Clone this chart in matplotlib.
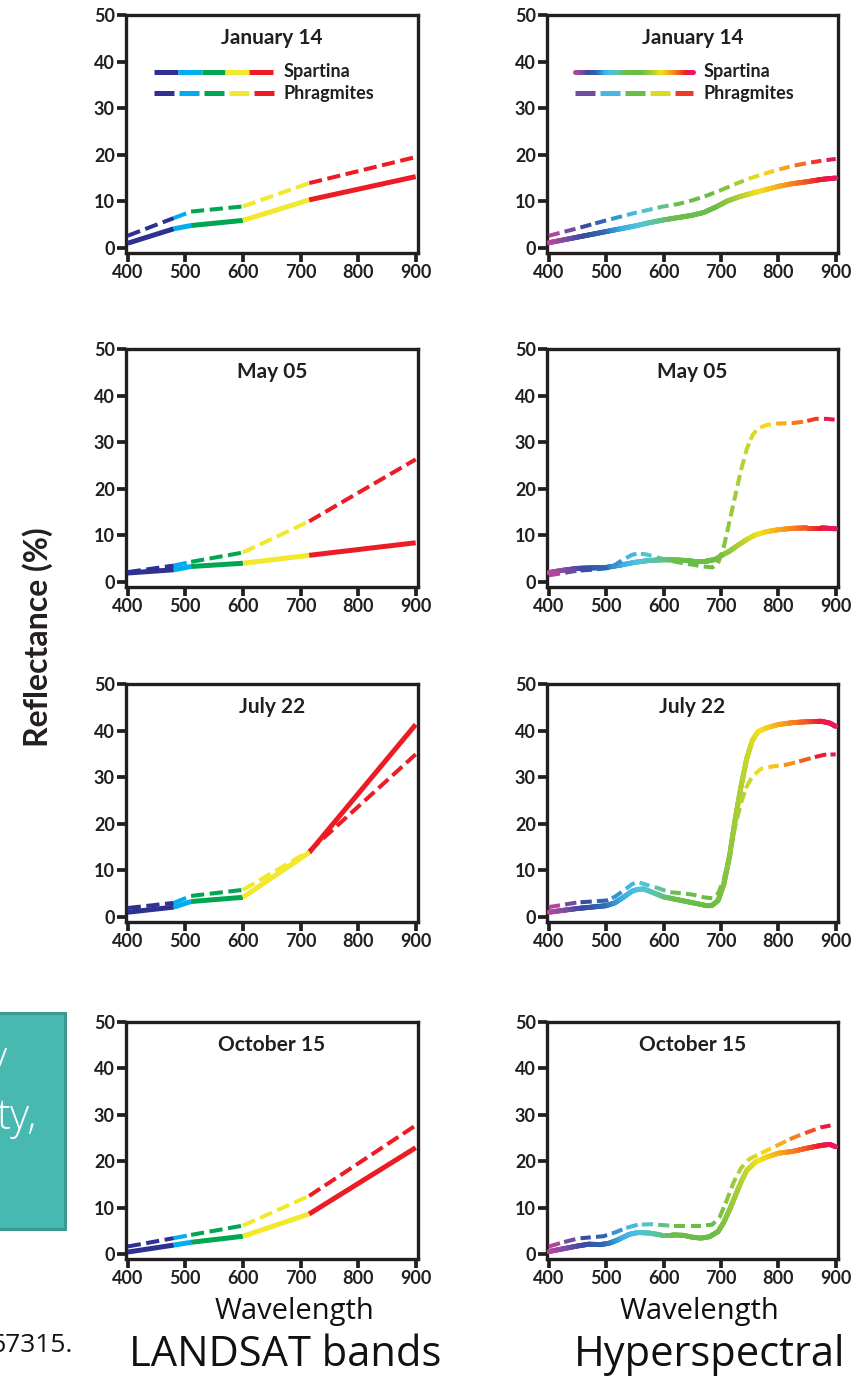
import numpy as np
import matplotlib
matplotlib.use('Agg')
import matplotlib.pyplot as plt
from matplotlib.collections import LineCollection
from matplotlib.colors import LinearSegmentedColormap
from matplotlib.patches import Rectangle

# ---- data -------------------------------------------------------------
dates = ['January 14', 'May 05', 'July 22', 'October 15']
xticks = [400, 500, 600, 700, 800, 900]
yticks = [0, 10, 20, 30, 40, 50]

# LANDSAT bands: band edges and reflectance at those edges
band_wl = [400, 480, 510, 600, 715, 900]
band_colors = ['#2e3192', '#00aeef', '#00a651', '#f2e82c', '#ed1c24']
landsat_spartina = [
    [1.0, 4.1, 4.8, 5.9, 10.3, 15.3],
    [1.9, 2.6, 3.3, 4.0, 5.7, 8.4],
    [1.0, 2.1, 3.3, 4.2, 13.8, 41.3],
    [0.4, 1.9, 2.5, 3.8, 8.6, 22.9],
]
landsat_phragmites = [
    [2.6, 6.4, 7.8, 8.9, 13.9, 19.5],
    [2.1, 3.5, 4.3, 6.3, 13.0, 26.3],
    [1.9, 3.0, 4.5, 5.8, 14.1, 34.9],
    [1.6, 3.4, 4.1, 6.1, 12.5, 27.7],
]

# Hyperspectral curves
hs_spartina_wl = [
    [400, 425, 450, 475, 500, 525, 550, 575, 600, 625, 650, 670, 690, 710, 730, 750, 775, 800, 825, 850, 875, 900],
    [400, 425, 450, 475, 500, 525, 550, 575, 600, 625, 650, 675, 690, 700, 715, 730, 745, 760, 780, 800, 825, 850, 875, 900],
    [400, 425, 450, 475, 500, 515, 530, 545, 555, 565, 580, 600, 620, 640, 660, 675, 685, 695, 705, 715, 725, 735, 745, 755, 765, 780, 800, 825, 850, 875, 890, 900],
    [400, 425, 450, 470, 490, 505, 520, 540, 555, 575, 595, 615, 635, 650, 665, 680, 695, 705, 715, 725, 735, 745, 760, 780, 800, 825, 850, 875, 890, 900],
]
hs_spartina = [
    [1.1, 1.7, 2.3, 2.9, 3.5, 4.1, 4.7, 5.4, 6.0, 6.5, 7.0, 7.6, 8.7, 10.0, 10.9, 11.6, 12.4, 13.2, 13.8, 14.2, 14.7, 15.0],
    [2.0, 2.5, 2.9, 3.0, 3.1, 3.6, 4.2, 4.6, 4.75, 4.7, 4.5, 4.5, 4.8, 5.6, 6.6, 7.9, 9.1, 10.1, 10.8, 11.2, 11.5, 11.6, 11.6, 11.4],
    [1.0, 1.4, 1.8, 2.1, 2.4, 3.0, 4.2, 5.5, 5.9, 6.0, 5.3, 4.3, 3.8, 3.3, 2.8, 2.4, 2.5, 3.5, 7.0, 13.0, 21.0, 28.0, 34.0, 38.0, 39.8, 40.6, 41.3, 41.7, 41.9, 42.0, 41.6, 40.9],
    [0.5, 1.1, 1.7, 2.1, 2.0, 2.3, 3.0, 4.2, 4.6, 4.5, 4.1, 4.1, 4.0, 3.6, 3.4, 3.7, 4.8, 6.8, 9.5, 12.5, 15.5, 18.0, 19.8, 20.9, 21.7, 22.1, 22.8, 23.4, 23.6, 23.1],
]
hs_phragmites_wl = [
    [400, 450, 500, 550, 600, 625, 650, 675, 700, 725, 750, 775, 800, 825, 850, 875, 900],
    [400, 425, 450, 475, 500, 515, 530, 545, 555, 570, 590, 610, 630, 650, 670, 685, 695, 705, 715, 725, 735, 745, 755, 765, 780, 800, 825, 845, 865, 885, 900],
    [400, 425, 450, 475, 500, 515, 530, 545, 555, 570, 590, 610, 630, 650, 670, 685, 695, 705, 715, 725, 735, 745, 755, 770, 790, 815, 840, 860, 880, 900],
    [400, 425, 450, 475, 495, 515, 535, 555, 580, 610, 640, 665, 685, 698, 710, 722, 735, 750, 770, 800, 825, 850, 875, 900],
]
hs_phragmites = [
    [2.6, 4.2, 5.9, 7.5, 8.9, 9.4, 10.2, 11.2, 12.4, 13.7, 14.9, 15.9, 16.8, 17.6, 18.2, 18.7, 19.1],
    [1.4, 1.9, 2.4, 2.6, 2.9, 3.6, 4.8, 5.8, 6.1, 5.9, 5.2, 4.6, 4.1, 3.7, 3.3, 3.1, 4.0, 7.5, 13.0, 18.5, 24.0, 28.5, 31.5, 33.0, 33.7, 34.0, 34.1, 34.4, 35.0, 35.0, 34.8],
    [2.1, 2.6, 3.1, 3.3, 3.5, 4.3, 5.6, 7.0, 7.5, 6.9, 6.2, 5.3, 5.1, 4.8, 4.2, 4.0, 5.0, 8.0, 13.5, 19.5, 24.5, 28.0, 30.2, 31.8, 32.3, 32.7, 33.5, 34.2, 34.8, 34.9],
    [1.6, 2.5, 3.3, 3.6, 3.8, 4.6, 5.6, 6.3, 6.4, 6.1, 6.1, 6.1, 6.3, 8.0, 11.5, 15.4, 18.5, 20.5, 21.7, 23.5, 25.0, 26.2, 27.3, 27.9],
]

# spectrum colours used for the hyperspectral curves
spec_wl = [400, 430, 460, 500, 530, 560, 590, 620, 690, 730, 770, 810, 850, 875, 900]
spec_col = ['#c2449b', '#7f4da0', '#3a4ba0', '#2e6bb6', '#3bb0e4', '#4fc3de', '#5cc2a0',
            '#6dbd4a', '#6bbd45', '#a6cd38', '#f4e21b', '#f8a21c', '#f15a24', '#ec1c2e', '#e8166a']

# ---- helpers ----------------------------------------------------------
W, H = 865, 1385
INK = '#231f20'
plt.rcParams['font.family'] = ['Lato', 'DejaVu Sans']
plt.rcParams['lines.scale_dashes'] = False

spec_cmap = LinearSegmentedColormap.from_list(
    'spec', [((w - 400) / 500, c) for w, c in zip(spec_wl, spec_col)])

fig = plt.figure(figsize=(W / 100, H / 100), dpi=100)


def fx(px):
    return px / W


def fy(py):
    return 1 - py / H


def add_panel(x0, x1, ytop, ybot):
    ax = fig.add_axes([fx(x0), fy(ybot), fx(x1 - x0), (ybot - ytop) / H])
    ax.set_xlim(397, 904)
    ax.set_ylim(-1.1, 50)
    for side in ['top', 'right', 'left', 'bottom']:
        ax.spines[side].set_linewidth(2.4)
        ax.spines[side].set_color(INK)
    ax.set_xticks(xticks)
    ax.set_xticklabels([str(t) for t in xticks], fontweight='bold')
    ax.set_yticks(yticks)
    ax.set_yticklabels([str(t) for t in yticks], fontweight='bold')
    ax.tick_params(direction='out', length=6.5, width=2.7, color=INK,
                   labelcolor=INK, labelsize=13, pad=1.5)
    return ax


def gradient_line(ax, x, y, lw, dash=None, trans=None, wl=None, z=3):
    """Draw polyline x,y coloured by wavelength, optionally dashed (pixels)."""
    trans = trans if trans is not None else ax.transData
    x = np.asarray(x, float)
    y = np.asarray(y, float)
    wl = x if wl is None else np.asarray(wl, float)
    pix = trans.transform(np.column_stack([x, y]))
    xs, ys, cs = [x[0]], [y[0]], [wl[0]]
    for i in range(len(x) - 1):
        n = max(2, int(np.hypot(*(pix[i + 1] - pix[i]))))
        t = np.linspace(0, 1, n + 1)[1:]
        xs.extend(x[i] + (x[i + 1] - x[i]) * t)
        ys.extend(y[i] + (y[i + 1] - y[i]) * t)
        cs.extend(wl[i] + (wl[i + 1] - wl[i]) * t)
    xs, ys, cs = np.array(xs), np.array(ys), np.array(cs)
    p = trans.transform(np.column_stack([xs, ys]))
    s = np.concatenate([[0], np.cumsum(np.hypot(np.diff(p[:, 0]), np.diff(p[:, 1])))])
    if dash is None:
        segs = np.stack([np.column_stack([xs[:-1], ys[:-1]]),
                         np.column_stack([xs[1:], ys[1:]])], axis=1)
        cmid = (cs[:-1] + cs[1:]) / 2
        lc = LineCollection(segs, colors=spec_cmap((cmid - 400) / 500), linewidths=lw,
                            transform=trans, zorder=z, capstyle='round')
    else:
        # one path per dash, coloured by the wavelength at its middle
        period = dash[0] + dash[1]
        on = (s % period) < dash[0]
        paths, cols = [], []
        i = 0
        while i < len(s):
            if on[i]:
                j = i
                while j + 1 < len(s) and on[j + 1]:
                    j += 1
                if j > i:
                    paths.append(np.column_stack([xs[i:j + 2], ys[i:j + 2]]))
                    cols.append(cs[(i + j) // 2])
                i = j + 1
            else:
                i += 1
        lc = LineCollection(paths, colors=spec_cmap((np.array(cols) - 400) / 500),
                            linewidths=lw, transform=trans, zorder=z, capstyle='butt')
    if trans is not ax.transData:
        lc.set_clip_on(False)
    ax.add_collection(lc)


# ---- layout -----------------------------------------------------------
row_top = [15, 349, 684, 1022]
row_bot = [253, 587, 922, 1259]
left_x = (126, 418)
right_x = (547, 838)

for r in range(4):
    axL = add_panel(left_x[0], left_x[1], row_top[r], row_bot[r])
    axR = add_panel(right_x[0], right_x[1], row_top[r], row_bot[r])
    for ax in (axL, axR):
        ax.text(0.5, 0.905, dates[r], transform=ax.transAxes, ha='center', va='center',
                fontsize=15, fontweight='bold', color=INK)

    # LANDSAT bands
    sp = landsat_spartina[r]
    ph = landsat_phragmites[r]
    for i in range(len(band_wl) - 1):
        axL.plot(band_wl[i:i + 2], ph[i:i + 2], color=band_colors[i], lw=2.9,
                 dashes=(9.5, 4), dash_capstyle='butt', zorder=4)
        axL.plot(band_wl[i:i + 2], sp[i:i + 2], color=band_colors[i], lw=3.6,
                 solid_capstyle='butt', zorder=3)

    # hyperspectral
    gradient_line(axR, hs_phragmites_wl[r], hs_phragmites[r], 2.9, dash=(11, 5), z=4)
    gradient_line(axR, hs_spartina_wl[r], hs_spartina[r], 3.6, z=3)

    if r == 0:
        # legend, LANDSAT panel
        lx0, lx1 = 0.096, 0.503
        seg = (lx1 - lx0) / 5
        for i, c in enumerate(band_colors):
            axL.plot([lx0 + i * seg, lx0 + (i + 1) * seg], [0.761, 0.761], color=c, lw=3.6,
                     solid_capstyle='butt', transform=axL.transAxes, clip_on=False)
            d0 = lx0 + i * 25 / 292
            axL.plot([d0, d0 + 20 / 292], [0.672, 0.672], color=c, lw=3.6,
                     solid_capstyle='butt', transform=axL.transAxes, clip_on=False)
        # legend, hyperspectral panel
        gradient_line(axR, [lx0, lx1], [0.761, 0.761], 3.6, trans=axR.transAxes,
                      wl=[400, 900])
        gradient_line(axR, [lx0, lx1], [0.672, 0.672], 3.6, dash=(20, 5),
                      trans=axR.transAxes, wl=[400, 900])
        for ax in (axL, axR):
            ax.text(0.538, 0.761, 'Spartina', transform=ax.transAxes, ha='left',
                    va='center', fontsize=13, fontweight='bold', color=INK)
            ax.text(0.538, 0.672, 'Phragmites', transform=ax.transAxes, ha='left',
                    va='center', fontsize=13, fontweight='bold', color=INK)

# ---- surrounding text ---------------------------------------------------
fig.text(fx(38), fy(637), 'Reflectance (%)', rotation=90, ha='center', va='center',
         fontsize=23, fontweight='bold', color=INK)

plain = ['Open Sans', 'DejaVu Sans']
fig.text(fx(294), fy(1312), 'Wavelength', ha='center', va='center', fontsize=21,
         family=plain, color='#111111')
fig.text(fx(699), fy(1312), 'Wavelength', ha='center', va='center', fontsize=21,
         family=plain, color='#111111')
fig.text(fx(285), fy(1355), 'LANDSAT bands', ha='center', va='center', fontsize=30,
         family=plain, color='#111111')
fig.text(fx(710), fy(1355), 'Hyperspectral', ha='center', va='center', fontsize=30,
         family=plain, color='#111111')
fig.text(fx(73), fy(1345), '67315.', ha='right', va='center', fontsize=19,
         family=plain, color='#111111')

# teal call-out box cut off at the left edge
fig.add_artist(Rectangle((fx(-10), fy(1229)), fx(75), (1229 - 1013) / H,
                         transform=fig.transFigure, facecolor='#47b9b1',
                         edgecolor='#3a9990', lw=2.2))
fig.text(fx(7), fy(1060), 'y', ha='right', va='center', fontsize=30,
         family=plain, fontweight='light', color='white')
fig.text(fx(37), fy(1118), 'ty,', ha='right', va='center', fontsize=30,
         family=plain, fontweight='light', color='white')

fig.savefig('out.png', dpi=100)
